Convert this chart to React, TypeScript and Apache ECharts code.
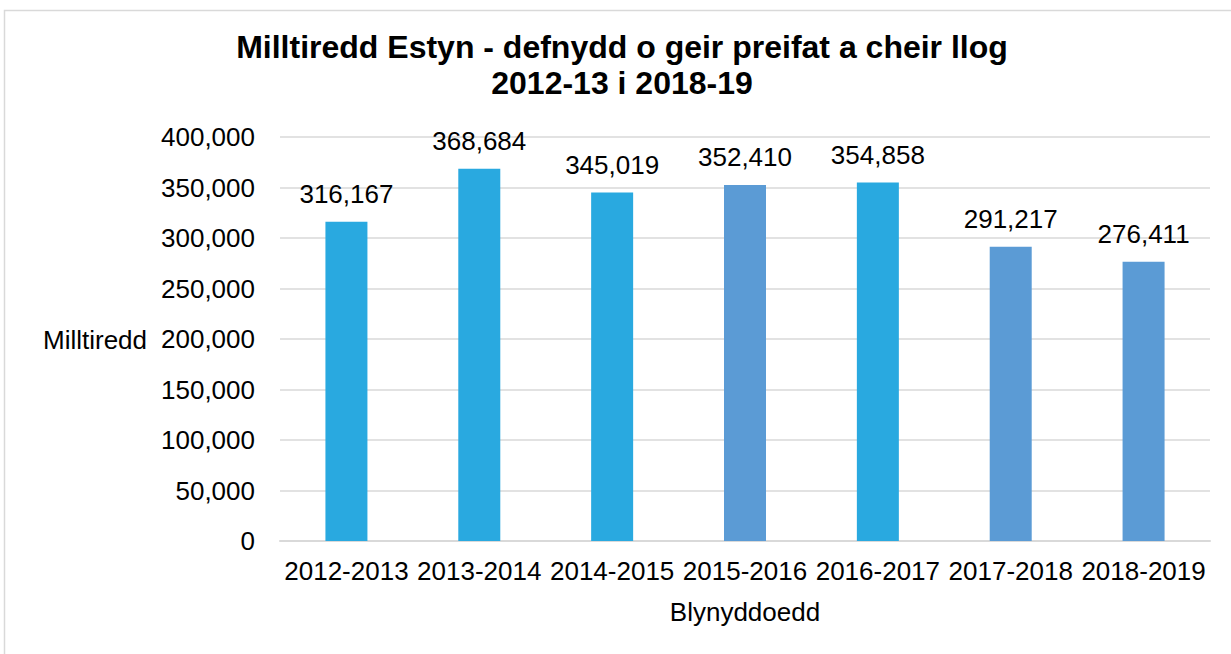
import React, { useEffect, useRef } from "react";
import * as echarts from "echarts";

const titleText = "Milltiredd Estyn - defnydd o geir preifat a cheir llog\n2012-13 i 2018-19";
const categories = ["2012-2013", "2013-2014", "2014-2015", "2015-2016", "2016-2017", "2017-2018", "2018-2019"];
const values = [316167, 368684, 345019, 352410, 354858, 291217, 276411];
const barColors = ["#29A9E0", "#29A9E0", "#29A9E0", "#5B9BD5", "#29A9E0", "#5B9BD5", "#5B9BD5"];
const yAxisName = "Milltiredd";
const xAxisName = "Blynyddoedd";

const FONT = "'Liberation Sans', Arial, sans-serif";

export default function App() {
  const ref = useRef<HTMLDivElement>(null);
  useEffect(() => {
    if (!ref.current) return;
    const chart = echarts.init(ref.current, undefined, { renderer: "svg" });
    chart.setOption({
      animation: false,
      backgroundColor: "#ffffff",
      textStyle: { fontFamily: FONT },
      title: {
        text: titleText,
        left: 617,
        textAlign: "center",
        top: 24,
        textStyle: { fontFamily: FONT, fontWeight: "bold", fontSize: 32, lineHeight: 36, color: "#000000" },
      },
      graphic: [
        {
          type: "rect",
          shape: { x: 4.5, y: 10.5, width: 1300, height: 700 },
          style: { fill: "none", stroke: "#d9d9d9", lineWidth: 1.5 },
          silent: true,
        },
        {
          type: "text",
          left: 43,
          top: 327,
          style: { text: yAxisName, fontFamily: FONT, fontSize: 26, fill: "#000000" },
        },
      ],
      grid: { left: 280, right: 21, top: 137, bottom: 113, containLabel: false },
      xAxis: {
        type: "category",
        data: categories,
        name: xAxisName,
        nameLocation: "middle",
        nameGap: 58,
        nameTextStyle: { fontFamily: FONT, fontSize: 26, color: "#000000" },
        axisLine: { lineStyle: { color: "#d9d9d9", width: 2 } },
        axisTick: { show: false },
        axisLabel: { fontFamily: FONT, fontSize: 26, color: "#000000", margin: 17, interval: 0 },
      },
      yAxis: {
        type: "value",
        min: 0,
        max: 400000,
        interval: 50000,
        axisLine: { show: false },
        axisTick: { show: false },
        splitLine: { lineStyle: { color: "#d9d9d9", width: 1.5 } },
        axisLabel: {
          fontFamily: FONT,
          fontSize: 26,
          color: "#000000",
          margin: 25,
          formatter: (v: number) => v.toLocaleString("en-US"),
        },
      },
      series: [
        {
          type: "bar",
          barWidth: 42,
          data: values.map((v, i) => ({ value: v, itemStyle: { color: barColors[i] } })),
          label: {
            show: true,
            position: "top",
            distance: 15,
            fontFamily: FONT,
            fontSize: 26,
            color: "#000000",
            formatter: (p: any) => Number(p.value).toLocaleString("en-US"),
          },
        },
      ],
    });
    return () => chart.dispose();
  }, []);
  return <div ref={ref} style={{ position: "absolute", left: 0, top: 0, width: 1231, height: 654 }} />;
}
